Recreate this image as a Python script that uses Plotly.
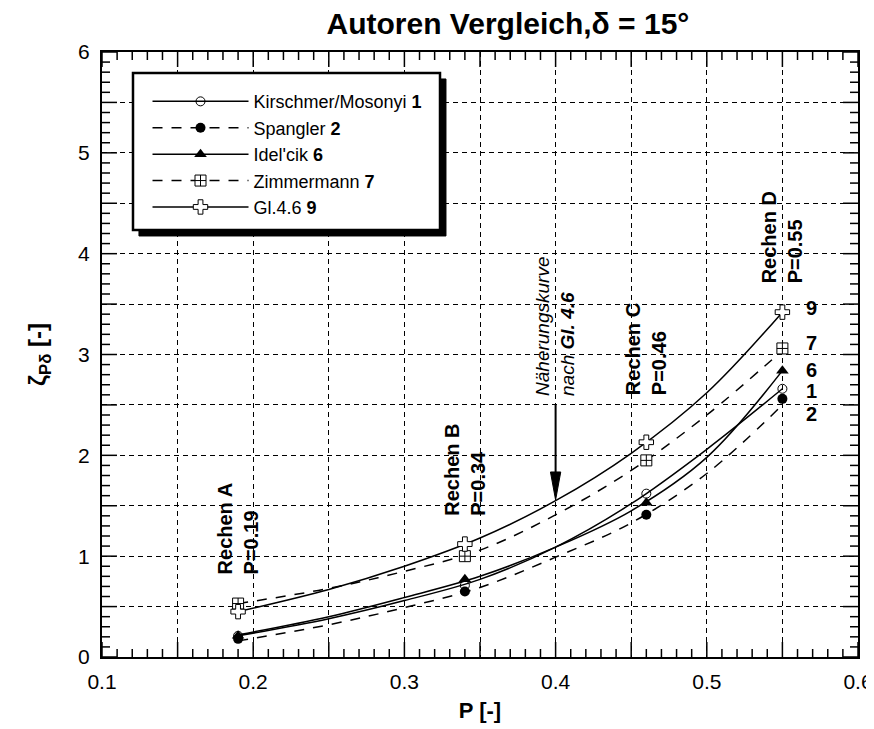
import plotly.graph_objects as go

# Messpunkte der vier Rechen
P = [0.19, 0.34, 0.46, 0.55]
kirschmer = [0.21, 0.71, 1.62, 2.66]
spangler = [0.18, 0.65, 1.41, 2.56]
idelcik = [0.21, 0.77, 1.53, 2.84]
zimmermann = [0.53, 1.00, 1.95, 3.06]
gl46 = [0.45, 1.12, 2.13, 3.42]

# Ausgleichskurven
P_curve = [0.19, 0.25, 0.30, 0.35, 0.40, 0.45, 0.50, 0.55]
kirschmer_curve = [0.21, 0.38, 0.56, 0.77, 1.09, 1.52, 2.06, 2.66]
spangler_curve = [0.16, 0.32, 0.49, 0.69, 0.99, 1.33, 1.82, 2.50]
idelcik_curve = [0.22, 0.40, 0.59, 0.80, 1.09, 1.45, 1.98, 2.84]
zimmermann_curve = [0.53, 0.68, 0.85, 1.06, 1.41, 1.85, 2.40, 3.04]
gl46_curve = [0.45, 0.67, 0.90, 1.18, 1.55, 2.02, 2.62, 3.42]

rechen = ["Rechen A", "Rechen B", "Rechen C", "Rechen D"]
end_labels = ["9", "7", "6", "1", "2"]

# Teilstriche (klein: 0.01 bzw. 0.1, gross: 0.05 bzw. 0.5)
x_minor = [round(0.1 + 0.01 * i, 2) for i in range(51)]
y_minor = [round(0.1 * i, 1) for i in range(61)]

FONT = "Liberation Sans, Arial, sans-serif"

series = [
    ("Kirschmer/Mosonyi <b>1</b>", kirschmer, kirschmer_curve, "solid",
     dict(symbol="circle-open", size=9, color="black", line=dict(width=1, color="black"))),
    ("Spangler <b>2</b>", spangler, spangler_curve, "10px,9px",
     dict(symbol="circle", size=10, color="black")),
    ("Idel'cik <b>6</b>", idelcik, idelcik_curve, "solid",
     dict(symbol="triangle-up", size=11, color="black")),
    ("Zimmermann <b>7</b>", zimmermann, zimmermann_curve, "10px,9px",
     dict(symbol="square-cross", size=11, color="white", line=dict(width=1, color="black"))),
    ("Gl.4.6 <b>9</b>", gl46, gl46_curve, "solid",
     dict(symbol="cross", size=12, color="white", line=dict(width=1, color="black"))),
]

fig = go.Figure()

for name, pts, curve, dash, marker in series:
    fig.add_trace(go.Scatter(x=P_curve, y=curve, mode="lines", line_shape="spline",
                             line=dict(color="black", width=1.5, dash=dash),
                             showlegend=False, hoverinfo="skip"))
for name, pts, curve, dash, marker in series:
    fig.add_trace(go.Scatter(x=P, y=pts, mode="markers", marker=marker,
                             showlegend=False, name=name))
    # Legendeneintrag (Linie + Symbol)
    fig.add_trace(go.Scatter(x=[None], y=[None], mode="lines+markers", name=name,
                             line=dict(color="black", width=1.5, dash=dash), marker=marker))

# Rechen-Beschriftungen
label_bottom = [0.80, 1.38, 2.58, 3.69]
for p, r, yb in zip(P, rechen, label_bottom):
    fig.add_annotation(x=p, y=yb, text=f"<b>{r}<br>P={p:.2f}</b>", textangle=-90,
                       xanchor="center", yanchor="bottom", align="left", showarrow=False,
                       font=dict(size=20, family=FONT, color="black"))

# Kurvennummern rechts
for lab, yv in zip(end_labels, [3.46, 3.11, 2.85, 2.64, 2.41]):
    fig.add_annotation(x=0.569, y=yv, text=f"<b>{lab}</b>", showarrow=False,
                       font=dict(size=20, family=FONT, color="black"))

# Näherungskurve mit Pfeil
fig.add_annotation(x=0.4, y=2.57, text="<i>Näherungskurve<br>nach <b>Gl. 4.6</b></i>",
                   textangle=-90, xanchor="center", yanchor="bottom", align="left",
                   showarrow=False, font=dict(size=19, family=FONT, color="black"))
fig.add_shape(type="line", x0=0.4, x1=0.4, y0=2.5, y1=1.80, line=dict(color="black", width=2))
fig.add_shape(type="path", path="M 0.4,1.557 L 0.3966,1.835 L 0.4034,1.835 Z",
              fillcolor="black", line=dict(color="black", width=1))

# Teilstriche innen auf allen vier Seiten
tick_line = dict(color="black", width=1.5)
for v in x_minor:
    L = 15 if round(v * 100) % 5 == 0 else 8
    fig.add_shape(type="line", xref="x", yref="paper", x0=v, x1=v, ysizemode="pixel",
                  yanchor=0, y0=0, y1=L, line=tick_line)
    fig.add_shape(type="line", xref="x", yref="paper", x0=v, x1=v, ysizemode="pixel",
                  yanchor=1, y0=0, y1=-L, line=tick_line)
for v in y_minor:
    L = 15 if round(v * 10) % 5 == 0 else 8
    fig.add_shape(type="line", xref="paper", yref="y", y0=v, y1=v, xsizemode="pixel",
                  xanchor=0, x0=0, x1=L, line=tick_line)
    fig.add_shape(type="line", xref="paper", yref="y", y0=v, y1=v, xsizemode="pixel",
                  xanchor=1, x0=0, x1=-L, line=tick_line)

# Legendenrahmen mit Schatten
fig.add_shape(type="rect", xref="paper", yref="paper", x0=0.0489, x1=0.4550, y0=0.6959, y1=0.9554,
              fillcolor="black", line=dict(color="black", width=1), layer="above")
fig.add_shape(type="rect", xref="paper", yref="paper", x0=0.0410, x1=0.4471, y0=0.7058, y1=0.9653,
              fillcolor="white", line=dict(color="black", width=2.5), layer="above")

axis_common = dict(
    ticks="", showline=True, linecolor="black", linewidth=2, mirror=True,
    showgrid=True, gridcolor="black", gridwidth=1, griddash="5px,4px",
    zeroline=False, tickmode="linear", ticklabelstep=2, automargin=False,
    ticklabeloverflow="allow",
    tickfont=dict(size=21, family=FONT, color="black"),
)

fig.update_layout(
    width=874, height=729,
    margin=dict(l=94, r=24, t=44, b=80),
    paper_bgcolor="white", plot_bgcolor="white",
    font=dict(family=FONT, color="black"),
    title=dict(text="<b>Autoren Vergleich,δ = 15°</b>", x=0.572, xanchor="center",
               y=0.9787, yanchor="middle", font=dict(size=30, family=FONT, color="black")),
    xaxis=dict(range=[0.1, 0.6], tick0=0.1, dtick=0.05,
               title=dict(text="<b>P [-]</b>", standoff=10, font=dict(size=22, family=FONT)),
               ticklabelstandoff=5, **axis_common),
    yaxis=dict(range=[0, 6], tick0=0, dtick=0.5,
               title=dict(text="<b>ζ<sub>Pδ</sub> [-]</b>", standoff=25, font=dict(size=24, family=FONT)),
               ticklabelstandoff=6, **axis_common),
    legend=dict(x=0.0602, y=0.9485, xanchor="left", yanchor="top", bgcolor="rgba(0,0,0,0)",
                borderwidth=0, itemwidth=96, font=dict(size=18, family=FONT, color="black")),
)

fig.write_html("out.html")
